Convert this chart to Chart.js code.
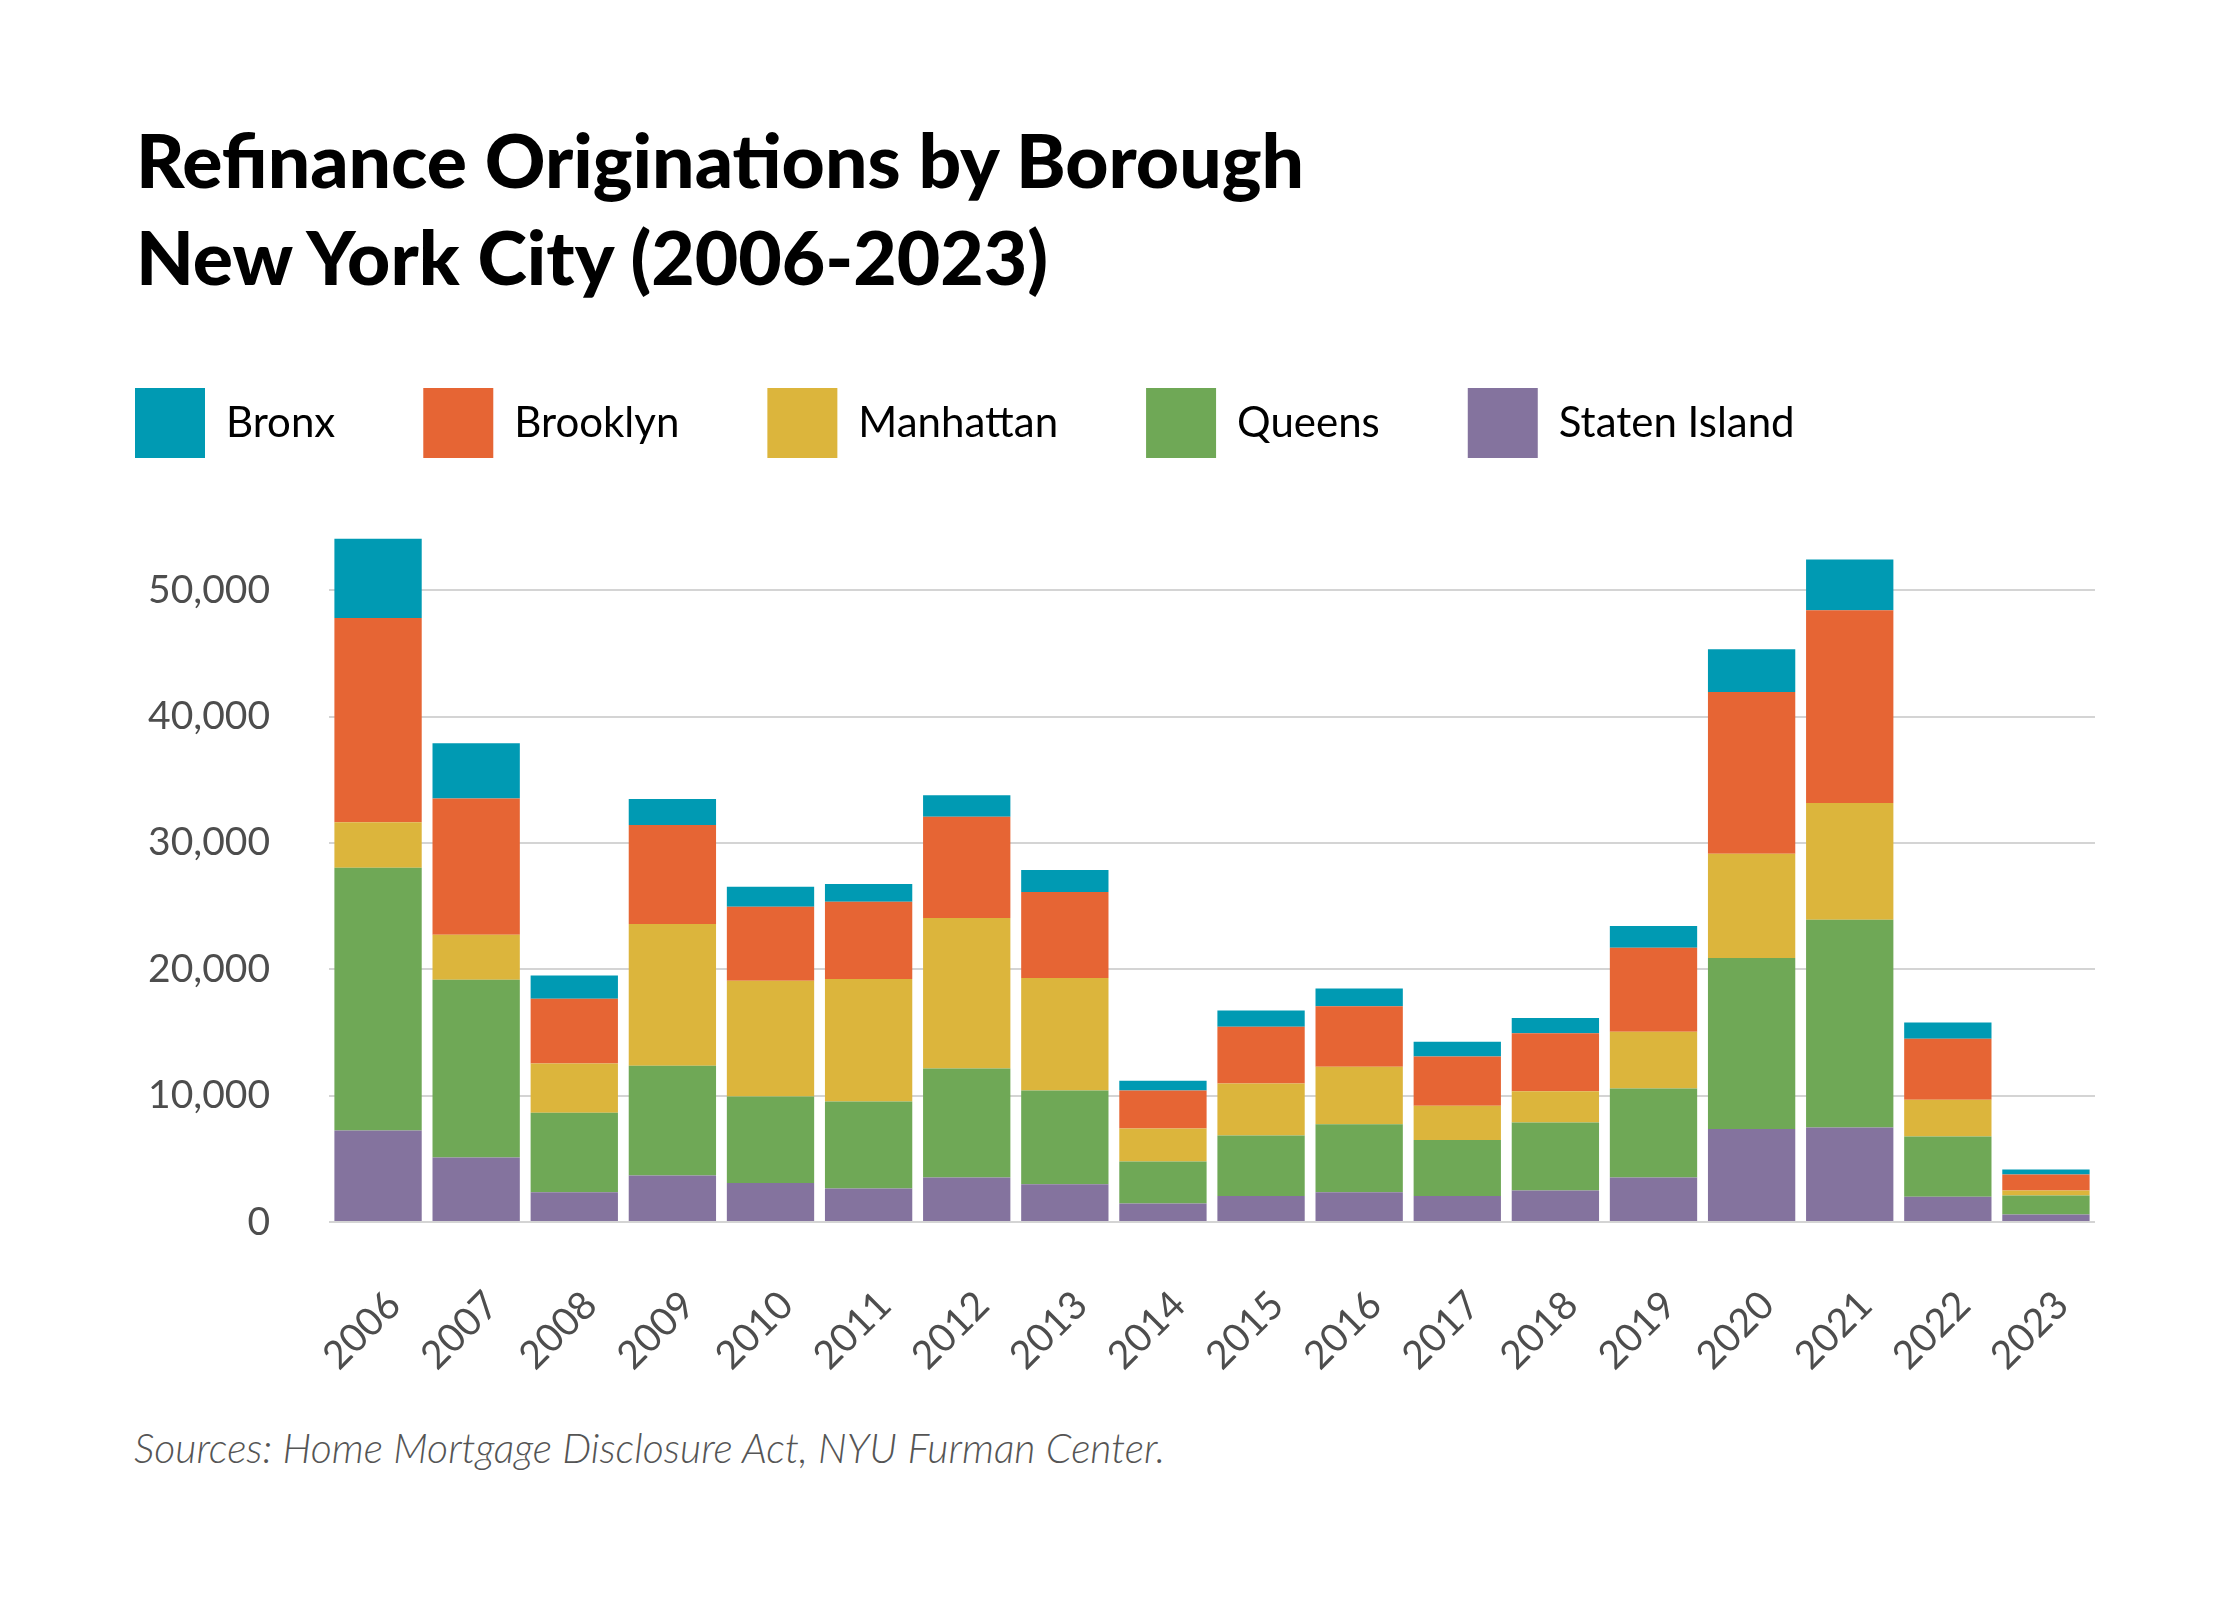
<!DOCTYPE html>
<html>
<head>
<meta charset="utf-8">
<script src="https://cdn.jsdelivr.net/npm/chart.js@4.4.1/dist/chart.umd.min.js"></script>
<style>
  body { margin: 0; background: #fff; width: 2240px; height: 1600px; position: relative; overflow: hidden; }
  #title { position: absolute; left: 136px; top: 111px; font: 900 75px Lato, sans-serif; line-height: 97px; color: #000; }
  #box { position: absolute; left: 0; top: 300px; width: 2240px; height: 1072px; }
  #source { position: absolute; left: 134px; top: 1423px; font: italic 300 41px Lato, sans-serif; color: #555; }
</style>
</head>
<body>
<div id="title">Refinance Originations by Borough<br>New York City (2006-2023)</div>
<div id="box"><canvas id="myChart"></canvas></div>
<div id="source">Sources: Home Mortgage Disclosure Act, NYU Furman Center.</div>
<script>
const years = ['2006', '2007', '2008', '2009', '2010', '2011', '2012', '2013', '2014',
  '2015', '2016', '2017', '2018', '2019', '2020', '2021', '2022', '2023']

const statenIsland = [7250, 5110, 2350, 3680, 3090, 2650, 3530, 2980, 1470, 2060, 2350, 2060, 2500, 3530, 7360, 7470, 1990, 590]
const queens = [20780, 14060, 6300, 8680, 6840, 6880, 8610, 7430, 3310, 4780, 5380, 4420, 5370, 7030, 13540, 16440, 4780, 1510]
const manhattan = [3610, 3570, 3900, 11220, 9160, 9710, 11920, 8900, 2610, 4120, 4560, 2720, 2470, 4490, 8240, 9240, 2910, 400]
const brooklyn = [16150, 10780, 5110, 7840, 5850, 6110, 8020, 6810, 3020, 4490, 4780, 3900, 4600, 6660, 12800, 15260, 4820, 1250]
const bronx = [6290, 4370, 1840, 2060, 1590, 1400, 1690, 1730, 770, 1290, 1400, 1170, 1210, 1720, 3380, 4020, 1280, 410]

const yTicks = [0, 10000, 20000, 30000, 40000, 50000]

Chart.defaults.font.family = 'Lato, sans-serif'
Chart.defaults.color = '#4d4d4d'

// keep a fixed gap between legend and plot
const legendSpace = {
  id: 'legendSpace',
  beforeInit (chart) {
    const legend = chart.legend
    if (!legend) return
    const fit = legend.fit
    legend.fit = function () {
      fit.call(this)
      this.height = 227
    }
  }
}

const ctx = document.getElementById('myChart')

const myChart = new Chart(ctx, {
  type: 'bar',
  data: {
    labels: years,
    datasets: [
      { label: 'Bronx', data: bronx, backgroundColor: '#009ab3', order: 5 },
      { label: 'Brooklyn', data: brooklyn, backgroundColor: '#e66534', order: 4 },
      { label: 'Manhattan', data: manhattan, backgroundColor: '#dcb53c', order: 3 },
      { label: 'Queens', data: queens, backgroundColor: '#6fa856', order: 2 },
      { label: 'Staten Island', data: statenIsland, backgroundColor: '#84739e', order: 1 }
    ]
  },
  options: {
    responsive: true,
    maintainAspectRatio: false,
    animation: false,
    layout: { padding: { left: 47, right: 145, top: 0, bottom: 0 } },
    datasets: {
      bar: { categoryPercentage: 1, barPercentage: 0.89, borderWidth: 0 }
    },
    scales: {
      x: {
        stacked: true,
        grid: { display: false },
        border: { display: false },
        ticks: { font: { size: 39 }, color: '#4d4d4d', minRotation: 45, maxRotation: 45, padding: 52, labelOffset: 16 },
        afterFit: (scale) => { scale.height = 150 }
      },
      y: {
        stacked: true,
        min: 0,
        max: 55000,
        border: { display: false },
        grid: { color: '#d4d4d4', lineWidth: 2, drawTicks: false },
        ticks: {
          font: { size: 39 },
          color: '#4d4d4d',
          padding: 59,
          callback: (v) => v.toLocaleString('en-US')
        },
        afterBuildTicks: (axis) => { axis.ticks = yTicks.map(v => ({ value: v })) },
        afterFit: (scale) => { scale.width = 282 }
      }
    },
    plugins: {
      legend: {
        position: 'top',
        align: 'start',
        reverse: true,
        labels: {
          boxWidth: 70,
          boxHeight: 70,
          padding: 88,
          color: '#000',
          font: { size: 42 }
        }
      },
      tooltip: { enabled: false }
    }
  },
  plugins: [legendSpace]
})
</script>
</body>
</html>
